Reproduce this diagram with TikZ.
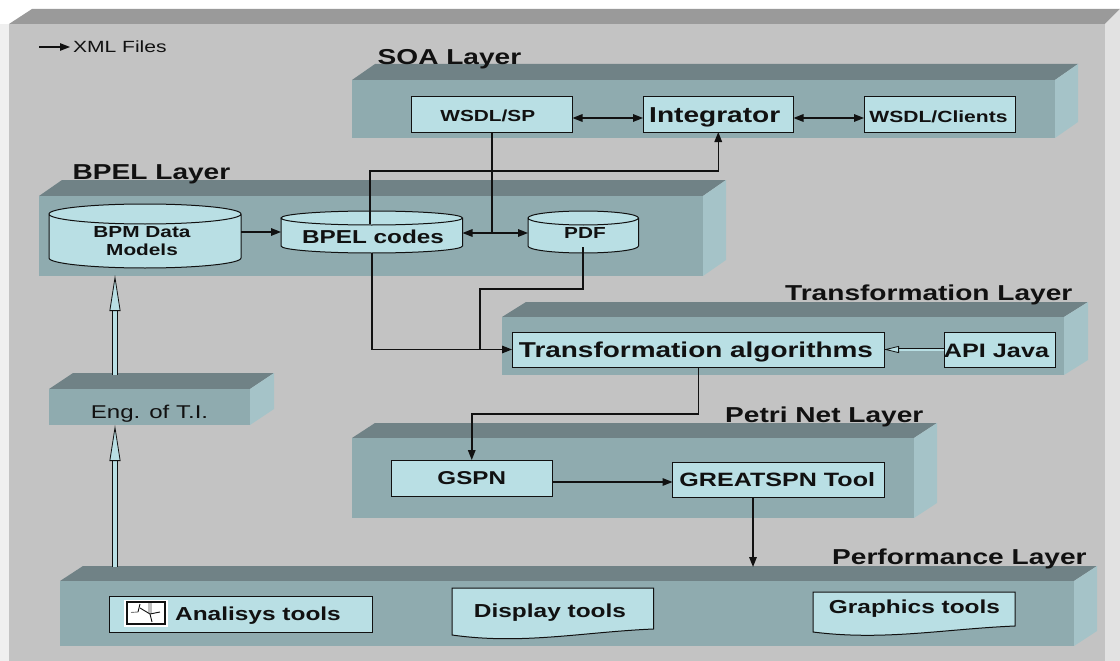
\documentclass[tikz,border=0pt]{standalone}
\usepackage{fontspec}
\setmainfont[FakeStretch=1.3]{Liberation Sans}
\usetikzlibrary{arrows.meta}
\definecolor{bgfront}{HTML}{C3C3C3}
\definecolor{bgtop}{HTML}{9A9A9A}
\definecolor{bgside}{HTML}{E2E2E2}
\definecolor{bgleft}{HTML}{EFEFEF}
\definecolor{layfront}{HTML}{8FABAF}
\definecolor{laytop}{HTML}{708286}
\definecolor{layside}{HTML}{A5C3C8}
\definecolor{boxfill}{HTML}{B9DFE4}
\definecolor{ink}{HTML}{111111}
\newcommand{\ft}[1]{\fontsize{#1}{#1}\selectfont}
\tikzset{
  boxst/.style={draw=ink,line width=1pt,fill=boxfill,inner sep=0pt,outer sep=0pt,text=ink},
  ghost/.style={inner sep=0pt,outer sep=0pt,text=ink},
  layerst/.style={fill=layfront,inner sep=0pt,outer sep=0pt,text=ink},
  titlest/.style={anchor=base west,inner sep=0pt,text=ink,font=\ft{21.6}\bfseries},
  conn/.style={draw=ink,line width=1.5pt,-{Triangle[length=10pt,width=7.5pt]}},
  twoway/.style={draw=ink,line width=1.5pt,{Triangle[length=10pt,width=7.5pt]}-{Triangle[length=10pt,width=7.5pt]}},
  plainline/.style={draw=ink,line width=1.5pt},
  hollowv/.style={draw=ink,line width=0.8pt,double=boxfill,double distance=4pt,-{Triangle[length=36pt,width=11pt,fill=boxfill]}},
  hollowh/.style={draw=ink,line width=0.8pt,double=boxfill,double distance=2pt,-{Triangle[length=15pt,width=7pt,fill=boxfill]}}
}
% centred label: offset dx, dy (px, y downwards) from the centre of the node
\newcommand{\lab}[3]{\smash{\makebox[0pt]{\hspace*{#1pt}\hspace*{#1pt}\raisebox{\dimexpr-0.36em-#2pt\relax}{#3}}}}
% \layern{name}{x0}{y0}{x1}{y1}{dx}{dy}
\newcommand{\layern}[7]{%
  \fill[laytop] (#2,#3) -- ({#2+#6},{#3-#7}) -- ({#4+#6},{#3-#7}) -- (#4,#3) -- cycle;
  \fill[layside] (#4,#3) -- ({#4+#6},{#3-#7}) -- ({#4+#6},{#5-#7}) -- (#4,#5) -- cycle;
  \node[layerst,minimum width={#4-#2},minimum height={#5-#3}] (#1) at ({(#2+#4)/2},{(#3+#5)/2}) {};
}
% \boxn{name}{x0}{y0}{x1}{y1}{font size}{dx}{dy}{text}
\newcommand{\boxn}[9]{%
  \node[boxst,minimum width={#4-#2},minimum height={#5-#3}] (#1) at ({(#2+#4)/2},{(#3+#5)/2}) {\ft{#6}\bfseries\lab{#7}{#8}{#9}};
}
% \cyln{name}{x0}{ytop}{x1}{ybot}{ry}
\newcommand{\cyln}[6]{%
  \fill[boxfill,draw=ink,line width=1pt] (#2,{#3+#6}) -- (#2,{#5-#6})
     .. controls (#2,{#5-0.45*#6}) and ({#2+0.225*(#4-#2)},#5) .. ({(#2+#4)/2},#5)
     .. controls ({#4-0.225*(#4-#2)},#5) and (#4,{#5-0.45*#6}) .. (#4,{#5-#6})
     -- (#4,{#3+#6})
     .. controls (#4,{#3+0.45*#6}) and ({#4-0.225*(#4-#2)},#3) .. ({(#2+#4)/2},#3)
     .. controls ({#2+0.225*(#4-#2)},#3) and (#2,{#3+0.45*#6}) .. (#2,{#3+#6})
     .. controls (#2,{#3+1.55*#6}) and ({#2+0.225*(#4-#2)},{#3+2*#6}) .. ({(#2+#4)/2},{#3+2*#6})
     .. controls ({#4-0.225*(#4-#2)},{#3+2*#6}) and (#4,{#3+1.55*#6}) .. (#4,{#3+#6});
  \node[ghost,minimum width={#4-#2},minimum height={#5-#3}] (#1) at ({(#2+#4)/2},{(#3+#5)/2}) {};
}
% \docn{name}{x0}{y0}{x1}{yleft}{yright}{ycontrol}
\newcommand{\docn}[7]{%
  \fill[boxfill,draw=ink,line width=1pt] (#2,#3) -- (#4,#3) -- (#4,#6)
     .. controls ({#4-0.35*(#4-#2)},{#6+3}) and ({#2+0.35*(#4-#2)},#7) .. (#2,#5) -- cycle;
  \node[ghost,minimum width={#4-#2},minimum height={#5-#3}] (#1) at ({(#2+#4)/2},{(#3+#5)/2}) {};
}
\begin{document}
\begin{tikzpicture}[x=1pt,y=-1pt]
\useasboundingbox (0,0) rectangle (1120,661);
\fill[white] (0,0) rectangle (1120,661);
% slab of the background
\fill[bgleft] (0,24) rectangle (9,661);
\fill[bgtop] (9,24) -- (32,9) -- (1120,9) -- (1105,24) -- cycle;
\fill[bgside] (1105,24) -- (1120,9) -- (1120,661) -- (1105,661) -- cycle;
\fill[bgfront] (9,24) rectangle (1105,661);
% legend
\coordinate (legA) at (39,47);
\node[ghost,anchor=west,font=\ft{16.2}] (legT) at (73,47) {\raisebox{-0.36em}[0pt][0pt]{XML Files}};
\coordinate (legB) at ([xshift=-3pt]legT.west);
\draw[conn,line width=1.2pt] (legA) -- (legB);
% layers
\layern{soa}{352}{80}{1055}{138}{23}{16}
\layern{bpel}{39}{196}{703}{276}{23}{16}
\layern{trans}{502}{317}{1064}{375}{24}{15}
\layern{eng}{49}{389}{250}{425}{24}{16}
\layern{petri}{352}{438}{914}{518}{23}{15}
\layern{perf}{60}{581}{1074}{646}{23}{15}
% titles
\node[titlest] (tsoa) at (377.5,65) {SOA Layer};
\node[titlest] (tbpel) at (72.5,179) {BPEL Layer};
\node[titlest] (ttrans) at (785,300) {Transformation Layer};
\node[titlest] (tpetri) at (725,422) {Petri Net Layer};
\node[titlest] (tperf) at (832,564) {Performance Layer};
% SOA boxes
\boxn{wsdlsp}{411}{97}{572.5}{132}{16}{-4}{1.5}{WSDL/SP}
\boxn{integ}{643}{97}{793.5}{132}{21.6}{-3.5}{0.5}{Integrator}
\boxn{clients}{864}{97}{1015}{132}{16.2}{-1}{2}{WSDL/Clients}
% BPEL shapes
\cyln{bpm}{49}{204}{241}{268}{10}
\node[ghost,font=\ft{16}\bfseries] (bpmA) at (142,232) {\lab{0}{0}{BPM Data}};
\node[ghost,font=\ft{16}\bfseries] (bpmB) at (142,250) {\lab{0}{0}{Models}};
\cyln{bpelc}{281}{211}{462.5}{253}{7}
\node[ghost,font=\ft{18.7}\bfseries] (bpelcT) at (373,237) {\lab{0}{0}{BPEL codes}};
\cyln{pdf}{528}{211}{638.5}{253}{7}
\node[ghost,font=\ft{16}\bfseries] (pdfT) at (585,233) {\lab{0}{0}{PDF}};
% Transformation boxes
\boxn{talgo}{512}{332}{884}{367}{21.5}{-2}{0.5}{Transformation algorithms}
\boxn{api}{944}{332}{1055}{367}{19.4}{-3}{1.2}{API Java}
% Petri boxes
\boxn{gspn}{391}{460}{552.5}{496}{18.6}{0}{0}{GSPN}
\boxn{great}{672.5}{462}{884}{497}{19.3}{-1}{0.5}{GREATSPN Tool}
% Performance shapes
\boxn{ana}{109}{596}{372}{632}{18.8}{17.5}{0}{Analisys tools}
\docn{disp}{452}{588}{653.5}{635}{629}{645}
\node[ghost,font=\ft{18.8}\bfseries] (dispT) at (550,611) {\lab{0}{0}{Display tools}};
\docn{graph}{813}{592}{1015}{632}{626}{641}
\node[ghost,font=\ft{18.8}\bfseries] (graphT) at (914.5,607) {\lab{0}{0}{Graphics tools}};
% icon
\fill[white] (124,600) rectangle (168,626.5);
\fill[lightgray] (148,603) rectangle (152,613);
\draw[ink,line width=1.2pt] (127,602) rectangle (165,624);
\draw[gray,line width=0.9pt] (131,612.5) -- (138,612);
\draw[ink,line width=0.9pt] (138,612) -- (140,604);
\draw[ink,line width=0.9pt] (140,608) -- (150,614) -- (152,622);
\draw[ink,line width=0.9pt] (150,614) -- (160,612);
% Eng label
\node[ghost,font=\ft{18.5}] (engT) at (149.5,412) {\lab{0}{0}{Eng. of T.I.}};
% connectors
\draw[twoway] ([yshift=-3.5pt]wsdlsp.east) -- ([yshift=-3.5pt]integ.west);
\draw[twoway] ([yshift=-3.5pt]integ.east) -- ([yshift=-3.5pt]clients.west);
\coordinate (bpmOut) at ([yshift=4pt]bpm.east);
\draw[conn] (bpmOut) -- (bpmOut -| bpelc.west);
\draw[twoway] ([yshift=-1pt]bpelc.east) -- ([yshift=-1pt]pdf.west);
\coordinate (dbl) at ([yshift=-1pt]pdf.west);
\draw[plainline] (wsdlsp.south) -- (wsdlsp.south |- dbl);
\coordinate (upOut) at ([xshift=-1.75pt,yshift=8pt]bpelc.center);
\coordinate (upTurn) at ([xshift=-1.75pt,yshift=61pt]bpelc.center);
\draw[conn] (upOut) -- (upTurn) -| (integ.south);
\draw[conn] (bpelc.south) |- (talgo.west);
\coordinate (pdfOut) at ([xshift=-0.2pt,yshift=6pt]pdf.south);
\coordinate (pdfDrop) at (480,289);
\draw[plainline] (pdfOut) -- (pdfOut |- pdfDrop) -- (pdfDrop) -- (pdfDrop |- talgo.west);
\coordinate (algoOut) at (698.6,367);
\coordinate (algoTurn) at (698.6,414);
\draw[conn] (algoOut) -- (algoTurn) -| (gspn.north);
\coordinate (gspnOut) at ([yshift=-4pt]gspn.east);
\draw[conn] (gspnOut) -- (gspnOut -| great.west);
\coordinate (greatOut) at (753,497);
\coordinate (perfIn) at (753,567);
\draw[conn] (greatOut) -- (perfIn);
\draw[hollowh] (api.west) -- (talgo.east);
\coordinate (engIn) at (115,425);
\coordinate (engOut) at (115,375);
\coordinate (perfOut) at (115,567);
\coordinate (bpelIn) at (115,275);
\draw[hollowv] (perfOut) -- (engIn);
\draw[hollowv] (engOut) -- (bpelIn);
\end{tikzpicture}
\end{document}
